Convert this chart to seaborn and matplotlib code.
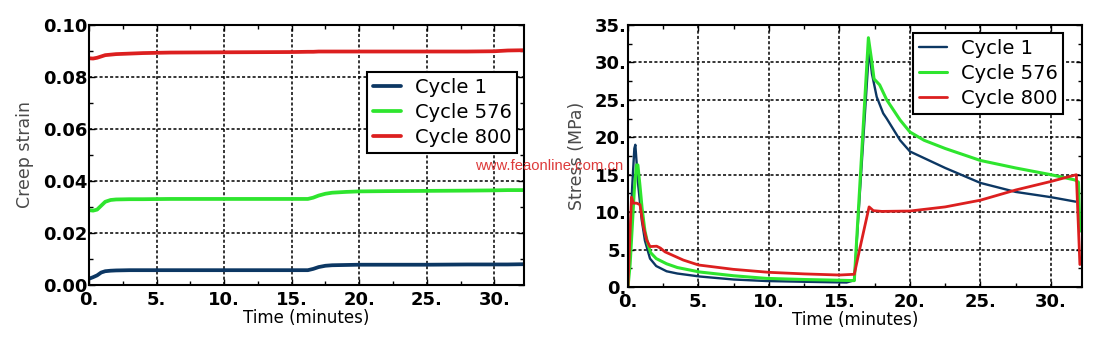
import numpy as np
import pandas as pd
import matplotlib
matplotlib.use("Agg")
import matplotlib.pyplot as plt
from matplotlib.ticker import MultipleLocator
import seaborn as sns

# ---- creep strain data (time in minutes) ----
strain_time = [0, 0.3, 0.6, 0.9, 1.2, 1.6, 2, 3, 4, 6, 10, 15, 16.2, 16.6,
               17, 17.5, 18, 19, 20, 22, 25, 28, 30, 31, 32.2]
strain_c1 = [0.0024, 0.0030, 0.0037, 0.0048, 0.0053, 0.0055, 0.0056, 0.0057,
             0.0057, 0.0057, 0.0057, 0.0057, 0.0057, 0.0062, 0.0069, 0.0074,
             0.0076, 0.0077, 0.0078, 0.0078, 0.0078, 0.0079, 0.0079, 0.0079,
             0.0080]
strain_c576 = [0.0288, 0.0286, 0.0290, 0.0305, 0.0320, 0.0327, 0.0329, 0.0330,
               0.0330, 0.0331, 0.0331, 0.0331, 0.0331, 0.0336, 0.0344, 0.0351,
               0.0355, 0.0358, 0.0360, 0.0361, 0.0362, 0.0363, 0.0364, 0.0365,
               0.0365]
strain_c800 = [0.0872, 0.0871, 0.0874, 0.0879, 0.0884, 0.0886, 0.0888, 0.0890,
               0.0892, 0.0894, 0.0895, 0.0896, 0.0897, 0.0897, 0.0898, 0.0898,
               0.0898, 0.0898, 0.0898, 0.0898, 0.0898, 0.0898, 0.0899, 0.0902,
               0.0903]

# ---- stress data (time in minutes, stress in MPa) ----
stress_t_c1 = [0, 0.14, 0.3, 0.45, 0.52, 0.73, 0.97, 1.2, 1.32, 1.56, 2.0,
               2.74, 3.5, 5.1, 7.5, 9.8, 12.5, 15.5, 16.05, 17.1, 17.3, 17.64,
               18.1, 18.35, 19.3, 20, 22.5, 25, 27.5, 30, 31.75]
stress_c1 = [0, 6.3, 13.5, 18.5, 19.0, 13.5, 9.0, 6.2, 5.4, 3.8, 2.8,
             2.1, 1.8, 1.4, 1.0, 0.8, 0.7, 0.6, 0.9, 31.9, 28.5, 25.4,
             23.2, 22.5, 19.6, 18.1, 15.9, 13.9, 12.7, 12.0, 11.4]
stress_t_c576 = [0, 0.15, 0.3, 0.45, 0.6, 0.7, 0.85, 1.0, 1.2, 1.4, 1.6, 2.0,
                 2.74, 3.5, 5.1, 7.5, 9.8, 12.5, 15.0, 16.05, 17.05, 17.3,
                 17.45, 17.85, 18.35, 19.3, 20, 21, 22.5, 25, 27.5, 30, 31.7,
                 31.95, 32.05]
stress_c576 = [0, 3.0, 8.0, 13.0, 16.3, 16.3, 13.5, 10.5, 7.5, 5.8, 4.6, 3.8,
               3.1, 2.6, 2.0, 1.5, 1.15, 1.0, 0.9, 0.85, 33.3, 30.0,
               27.8, 27.0, 25.0, 22.3, 20.7, 19.6, 18.5, 16.9, 15.9, 15.0, 14.3,
               14.0, 7.5]
stress_t_c800 = [0, 0.12, 0.25, 0.38, 0.61, 0.85, 1.09, 1.32, 1.56, 2.03, 2.3,
                 2.62, 3.92, 5.0, 7.47, 10, 12.5, 15, 16.05, 16.45, 17.1, 17.4,
                 18, 20, 22.5, 25, 27.5, 30, 31.8, 32.05]
stress_c800 = [0, 6.0, 12.0, 11.2, 11.2, 11.0, 8.1, 6.3, 5.4, 5.45, 5.2,
               4.7, 3.6, 2.94, 2.36, 1.96, 1.75, 1.6, 1.7, 5.2, 10.7, 10.2,
               10.1, 10.15, 10.7, 11.6, 12.96, 14.1, 15.0, 3.0]

series_names = ["Cycle 1", "Cycle 576", "Cycle 800"]
palette = {"Cycle 1": "#0c3763", "Cycle 576": "#2ee52e", "Cycle 800": "#dc1f1f"}

strain_df = pd.concat([
    pd.DataFrame({"time": strain_time, "value": v, "series": n})
    for n, v in zip(series_names, [strain_c1, strain_c576, strain_c800])
], ignore_index=True)
stress_df = pd.concat([
    pd.DataFrame({"time": t, "value": v, "series": n})
    for n, t, v in zip(series_names,
                       [stress_t_c1, stress_t_c576, stress_t_c800],
                       [stress_c1, stress_c576, stress_c800])
], ignore_index=True)

sns.set_style("ticks")
plt.rcParams["font.family"] = ["DejaVu Sans"]
plt.rcParams["lines.scale_dashes"] = False
plt.rcParams["text.color"] = "black"
plt.rcParams["xtick.color"] = "black"
plt.rcParams["ytick.color"] = "black"

fig = plt.figure(figsize=(11.02, 3.4), dpi=100)
ax1 = fig.add_axes([89 / 1102, 55 / 340, 435 / 1102, 260 / 340])
ax2 = fig.add_axes([628 / 1102, 53 / 340, 454 / 1102, 262 / 340])

sns.lineplot(data=strain_df, x="time", y="value", hue="series", palette=palette,
             hue_order=series_names, estimator=None, sort=False, linewidth=2.7,
             ax=ax1, legend=False)
sns.lineplot(data=stress_df, x="time", y="value", hue="series", palette=palette,
             hue_order=series_names, estimator=None, sort=False, linewidth=1.8,
             ax=ax2, legend=False)
# per-series widths on the stress panel
for line, lw in zip(ax2.get_lines(), [1.7, 2.2, 2.0]):
    line.set_linewidth(lw)

tick_font = dict(fontsize=13, fontweight="bold", color="black")
for ax in (ax1, ax2):
    ax.set_xlim(0, 32.2)
    ax.xaxis.set_minor_locator(MultipleLocator(2.5))
    ax.grid(True, which="major", color="black", linewidth=1.1,
            linestyle=(0, (2.2, 1.6)))
    ax.set_axisbelow(True)
    for s in ax.spines.values():
        s.set_color("black")
        s.set_linewidth(1.5)
    ax.tick_params(which="both", direction="in", top=True, right=True,
                   color="black", width=1.0)
    ax.tick_params(axis="y", which="both", pad=1)
    ax.tick_params(axis="x", which="both", pad=4)
    ax.tick_params(which="major", length=4)
    ax.tick_params(which="minor", length=3)
    ax.set_xticks([v for v in range(0, 31, 5)])
    ax.set_xticklabels([f"{v}." for v in range(0, 31, 5)], **tick_font)
    ax.set_xlabel("Time (minutes)", fontsize=12, color="black", labelpad=0)

ax1.set_ylim(0, 0.1)
ax1.set_yticks(np.arange(0, 0.1001, 0.02))
ax1.set_yticklabels([f"{v:.2f}" for v in np.arange(0, 0.1001, 0.02)], **tick_font)
ax1.yaxis.set_minor_locator(MultipleLocator(0.01))
ax1.set_ylabel("Creep strain", fontsize=12.5, color="#4a4a4a", labelpad=6.5)

ax2.set_ylim(0, 35)
ax2.set_yticks(range(0, 36, 5))
ax2.set_yticklabels([f"{v}." for v in range(0, 36, 5)], **tick_font)
ax2.yaxis.set_minor_locator(MultipleLocator(2.5))
ax2.set_ylabel("Stress (MPa)", fontsize=12.5, color="#4a4a4a", labelpad=6)

leg_kw = dict(frameon=True, fancybox=False, framealpha=1, edgecolor="black",
              fontsize=14, handlelength=1.45, handletextpad=0.7,
              borderpad=0.3, labelspacing=0.32, borderaxespad=0,
              labelcolor="black")
h1 = ax1.get_lines()[:3]
leg1 = ax1.legend(h1, series_names, loc="upper left",
                  bbox_to_anchor=((367 - 89) / 435, (285 - 72) / 260), **leg_kw)
leg1.get_frame().set_linewidth(1.5)
h2 = ax2.get_lines()[:3]
leg2 = ax2.legend(h2, series_names, loc="upper left",
                  bbox_to_anchor=((913 - 628) / 454, (287 - 33) / 262), **leg_kw)
leg2.get_frame().set_linewidth(1.5)

fig.text(475 / 1102, 1 - 170 / 340, "www.feaonline.com.cn", color="#dd3b3b",
         fontsize=10.7, family="Liberation Sans", ha="left", va="baseline")

fig.savefig("out.png", dpi=100)
